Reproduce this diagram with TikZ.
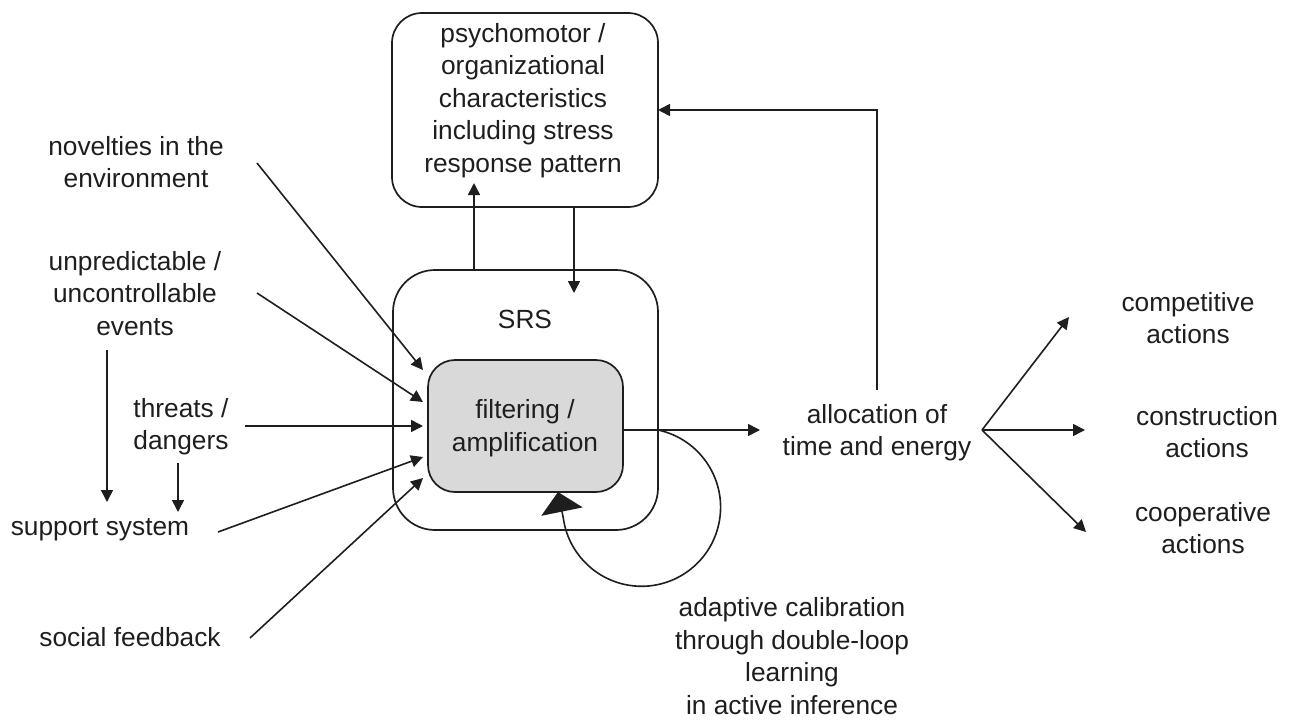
\documentclass[tikz,border=0pt]{standalone}
\usepackage{fontspec}
\setmainfont{Liberation Sans}
\usetikzlibrary{arrows.meta}
\definecolor{ink}{RGB}{30,30,30}
\definecolor{panel}{RGB}{217,217,217}

\begin{document}
\begin{tikzpicture}[x=1pt,y=-1pt,
  every node/.style={inner sep=0pt, outer sep=0pt},
  lbl/.style={font=\fontsize{26.3}{32.5}\selectfont, text=ink, align=center, anchor=base},
  frame/.style={draw=ink, line width=1.7pt},
  arr/.style={draw=ink, line width=1.6pt, -{Triangle[width=12pt,length=12pt]}},
  bigarr/.style={draw=ink, line width=1.6pt, -{Triangle[width=42pt,length=20pt]}},
]
\useasboundingbox (0,0) rectangle (1290,720);

% boxes
\node[frame, rounded corners=30pt, minimum width=266pt, minimum height=194pt] (psy) at (525,110) {};
\node[frame, rounded corners=42pt, minimum width=265pt, minimum height=260pt] (srs) at (525.5,400) {};
\node[frame, fill=panel, rounded corners=27pt, minimum width=195pt, minimum height=132pt] (filter) at (525.5,426) {};

% texts (anchored at the baseline of their last line)
\node[lbl] (psytext) at (523,172) {psychomotor /\\organizational\\characteristics\\including stress\\response pattern};
\node[lbl] (srstext) at (525,328) {SRS};
\node[lbl] (filtertext) at (525,451) {filtering /\\amplification};
\node[lbl] (nov) at (136,187.5) {novelties in the\\environment};
\node[lbl] (unp) at (135,335) {unpredictable /\\uncontrollable\\events};
\node[lbl] (thr) at (181,449.5) {threats /\\dangers};
\node[lbl] (sup) at (100,535) {support system};
\node[lbl] (soc) at (130,646) {social feedback};
\node[lbl] (alloc) at (877,455.5) {allocation of\\time and energy};
\node[lbl] (comp) at (1188,343.5) {competitive\\actions};
\node[lbl] (cons) at (1207,457.5) {construction\\actions};
\node[lbl] (coop) at (1203,553.5) {cooperative\\actions};
\node[lbl] (adapt) at (792,714) {adaptive calibration\\through double-loop\\learning\\in active inference};

% connector end points
\coordinate (novS) at (257,163);
\coordinate (unpS) at (257,293);
\coordinate (thrS) at (245,426);
\coordinate (supS) at (218,532);
\coordinate (socS) at (250,638);
\coordinate (in1) at (423,370);
\coordinate (in2) at (423,402);
\coordinate (in3) at (423,426);
\coordinate (in4) at (423,457);
\coordinate (in5) at (423,478);
\coordinate (unpD) at (107,350);
\coordinate (supA) at (107,502);
\coordinate (thrD) at (178,463);
\coordinate (supB) at (178,512);
\coordinate (out) at ([yshift=-4pt]filter.east);
\coordinate (allocin) at (760,430);
\coordinate (fork) at (982,430);
\coordinate (toComp) at (1069,317);
\coordinate (toCons) at (1085,430);
\coordinate (toCoop) at (1086,532);
\coordinate (loopstart) at (out -| srs.east);
\coordinate (looptip) at ([xshift=32.5pt]filter.south);

% inputs to the filter
\draw[arr] (novS) -- (in1);
\draw[arr] (unpS) -- (in2);
\draw[arr] (thrS) -- (in3);
\draw[arr] (supS) -- (in4);
\draw[arr] (socS) -- (in5);
\draw[arr] (unpD) -- (supA);
\draw[arr] (thrD) -- (supB);

% exchange between SRS and characteristics
\draw[arr] ([xshift=-51.5pt]srs.north) -- ([xshift=-51.5pt,yshift=24pt]srs.north |- psy.south);
\draw[arr] ([xshift=49pt]psy.south) -- ([xshift=49pt,yshift=-23pt]psy.south |- srs.north);

% output and feedback
\draw[arr] (out) -- (allocin);
\draw[arr] ([yshift=14pt]alloc.north) |- (psy.east);

% actions
\draw[arr] (fork) -- (toComp);
\draw[arr] (fork) -- (toCons);
\draw[arr] (fork) -- (toCoop);

% double-loop calibration
\draw[bigarr] (loopstart) arc[start angle=-78, end angle=172, radius=79] -- (looptip);
\end{tikzpicture}
\end{document}
